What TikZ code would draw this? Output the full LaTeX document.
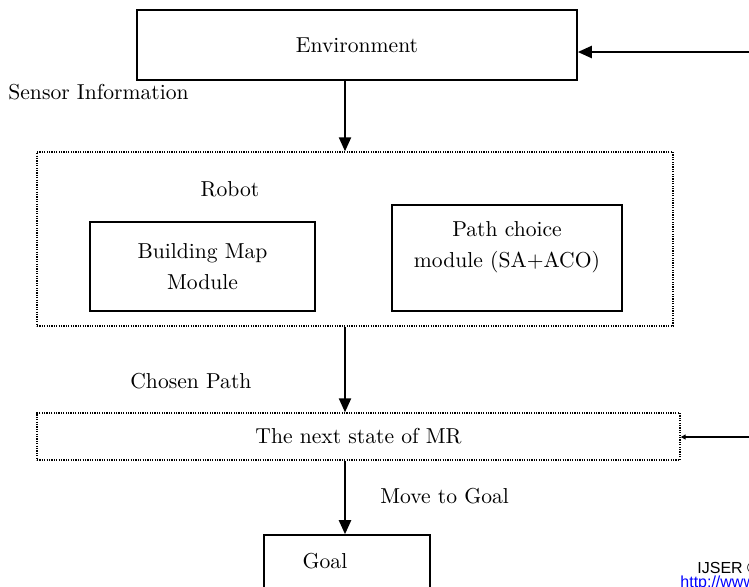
\documentclass[tikz,border=0pt]{standalone}
\usepackage{fontspec}
\newfontfamily\markfont{Liberation Sans}
\usetikzlibrary{arrows.meta}
\tikzset{block/.style={rectangle, draw, line width=0.8pt},
	dotbox/.style={rectangle, draw, dash pattern=on 0.6pt off 0.6pt, line width=0.7pt},
	flow/.style={-{Triangle[length=7pt,width=6pt]}, line width=1.1pt},
	tag/.style={anchor=west, inner sep=0pt},
	stamp/.style={anchor=west, inner sep=0pt, font=\markfont\fontsize{8}{9}\selectfont}
}

\begin{document}
\begin{tikzpicture}[x=0.5pt,y=-0.5pt,font=\fontsize{10.8}{15.5}\selectfont]
			\clip (0,0) rectangle (749,586);
			\node[block, minimum width=220pt, minimum height=35pt] (env) at (357,45) {Environment};
			\node[dotbox, minimum width=318pt, minimum height=87pt,
				label={[anchor=center,xshift=-62.5pt,yshift=-19pt]north:Robot}] (robot) at (355,239) {};
			\node[block, minimum width=112.5pt, minimum height=44.5pt, align=center] (map) at (202.5,266.5) {Building Map\\Module};
			\node[block, minimum width=115pt, minimum height=53pt,
				label={[anchor=center,align=center,yshift=-21.5pt]north:Path choice\\module (SA+ACO)}] (choice) at (507,258) {};
			\node[dotbox, minimum width=321.5pt, minimum height=23.5pt] (next) at (358.5,436.5) {The next state of MR};
			\node[block, minimum width=83pt, minimum height=32.5pt,
				label={[anchor=center,xshift=-11pt,yshift=-13.5pt]north:Goal}] (goal) at (347,567.5) {};
			\node[tag] (sensor) at (8,92) {Sensor Information};
			\node[tag] (chosen) at (130,381) {Chosen Path};
			\node[tag] (move) at (380,496) {Move to Goal};
			\node[stamp] (ijser) at (697,568) {IJSER © 2013};
			\node[stamp, text=blue] (url) at (680,583) {http://www.ijser.org};
			\coordinate (axis) at (345,0);
			\coordinate (backtop) at (749,52);
			\coordinate (backlow) at (749,437);
			\draw[flow] (env.south -| axis) -- (robot.north -| axis);
			\draw[flow] (robot.south -| axis) -- (next.north -| axis);
			\draw[flow] (next.south -| axis) -- (goal.north -| axis);
			\draw[flow] (backtop) -- (env.east |- backtop);
			\draw[{Triangle[length=2.5pt,width=2.5pt]}-, line width=0.8pt] (next.east |- backlow) -- (backlow);
		\end{tikzpicture}
\end{document}
